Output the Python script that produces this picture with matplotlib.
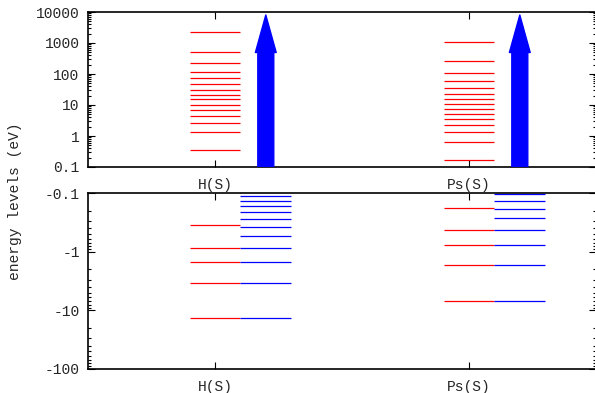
import numpy as np
import matplotlib
matplotlib.use("Agg")
import matplotlib.pyplot as plt
from matplotlib.ticker import LogLocator, FixedLocator, FuncFormatter, NullFormatter

plt.rcParams['font.family'] = ['Liberation Mono', 'DejaVu Sans Mono']

categories = ["H(S)", "Ps(S)"]

# positive (continuum-like) computed levels, eV
h_pos = [2265, 525, 221, 119, 72.6, 47.6, 31.2, 21.5, 15.3, 10.2, 7.05, 4.52, 2.69, 1.31, 0.346]
ps_pos = [1101, 262, 110, 59.4, 35.3, 22.6, 15.3, 10.5, 7.27, 5.01, 3.46, 2.21, 1.31, 0.655, 0.168]

# negative (bound) computed levels, eV
h_neg = [-13.6, -3.4, -1.51, -0.85, -0.356]
ps_neg = [-6.8, -1.7, -0.756, -0.425, -0.180]

# exact bound levels, eV
h_exact = [-13.6, -3.4, -1.511, -0.85, -0.544, -0.378, -0.278, -0.2125, -0.168, -0.136, -0.112]
ps_exact = [-6.8, -1.7, -0.756, -0.425, -0.272, -0.189, -0.139, -0.106]

arrow_top = [8000, 8000]

top_ticks = [0.1, 1, 10, 100, 1000, 10000]
bot_ticks = [-0.1, -1, -10, -100]

W, H = 595, 393
fig = plt.figure(figsize=(W / 100, H / 100), dpi=100)
left, right = 88, 596
ax1 = fig.add_axes([left / W, 1 - 167 / H, (right - left) / W, (167 - 12) / H])
ax2 = fig.add_axes([left / W, 1 - 369 / H, (right - left) / W, (369 - 193) / H])

xpos = np.arange(1, len(categories) + 1)
lw = 0.9
tcol = '#262626'
fs = 10.5

# top panel
for x, vals in zip(xpos, [h_pos, ps_pos]):
    ax1.hlines(vals, x - 0.1, x + 0.1, color='red', lw=lw)
for x, top in zip(xpos, arrow_top):
    ann = ax1.annotate('', xy=(x + 0.2, top), xytext=(x + 0.2, top_ticks[0] * 0.5),
                       arrowprops=dict(arrowstyle='simple,head_length=27,head_width=15,tail_width=11.5',
                                       color='blue', shrinkA=0, shrinkB=0, mutation_scale=1),
                       annotation_clip=False)
    ann.arrow_patch.set_clip_box(ax1.bbox)
    ann.arrow_patch.set_clip_on(True)
ax1.set_yscale('log')
ax1.set_ylim(top_ticks[0], top_ticks[-1])
ax1.yaxis.set_major_locator(FixedLocator(top_ticks))
ax1.yaxis.set_major_formatter(FuncFormatter(lambda v, p: f"{v:g}"))

# bottom panel (magnitudes on log scale, inverted)
for x, vals, ex in zip(xpos, [h_neg, ps_neg], [h_exact, ps_exact]):
    ax2.hlines(-np.array(vals), x - 0.1, x + 0.1, color='red', lw=lw)
    ax2.hlines(-np.array(ex), x + 0.1, x + 0.3, color='blue', lw=lw)
ax2.set_yscale('log')
ax2.set_ylim(-bot_ticks[-1], -bot_ticks[0])
ax2.yaxis.set_major_locator(FixedLocator([-t for t in bot_ticks]))
ax2.yaxis.set_major_formatter(FuncFormatter(lambda v, p: f"{-v:g}"))

for ax in (ax1, ax2):
    ax.set_xlim(0.5, len(categories) + 0.5)
    ax.set_xticks(xpos)
    ax.set_xticklabels(categories)
    ax.yaxis.set_minor_locator(LogLocator(base=10, subs=np.arange(2, 10), numticks=20))
    ax.yaxis.set_minor_formatter(NullFormatter())
    ax.tick_params(which='both', direction='in', left=True, right=True, top=True, bottom=True,
                   labelsize=fs, labelcolor=tcol, color='black', width=0.8)
    ax.tick_params(which='major', length=5, pad=6)
    ax.tick_params(axis='x', which='major', pad=8)
    ax.tick_params(which='minor', length=2.5)
    ax.tick_params(axis='x', which='minor', top=False, bottom=False)
    for s in ax.spines.values():
        s.set_linewidth(1.2)

fig.text(15 / W, 1 - 201 / H, "energy levels (eV)", rotation=90, ha='center', va='center',
         fontsize=fs, color=tcol)

fig.savefig("out.png", dpi=100)
